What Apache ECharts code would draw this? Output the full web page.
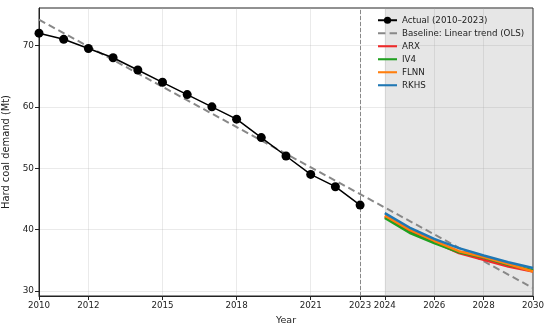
<!DOCTYPE html>
<html><head><meta charset="utf-8">
<script src="https://cdn.jsdelivr.net/npm/echarts@6/dist/echarts.min.js"></script>
<style>html,body{margin:0;padding:0;background:#fff}#c{width:550px;height:332px}</style>
</head><body><div id="c"></div>
<script>
const actualYears = [2010,2011,2012,2013,2014,2015,2016,2017,2018,2019,2020,2021,2022,2023];
const actualValues = [72,71,69.5,68,66,64,62,60,58,55,52,49,47,44];
const baselineYears = [2010,2030];
const baselineValues = [74.2,30.5];
const forecastYears = [2024,2025,2026,2027,2028,2029,2030];
const arx  = [42.1,39.8,38.0,36.2,35.1,34.0,33.2];
const iv4  = [41.9,39.5,37.8,36.3,35.45,34.3,33.4];
const flnn = [42.3,40.0,38.2,36.5,35.55,34.4,33.2];
const rkhs = [42.7,40.35,38.5,37.0,35.8,34.7,33.75];
const xTicks = [2010,2012,2015,2018,2021,2023,2024,2026,2028,2030];
const yTicks = [30,40,50,60,70];
const forecastStart = 2024, forecastEnd = 2030, splitYear = 2023;

const font = 'DejaVu Sans';
const zip = (xs, ys) => xs.map((x,i)=>[x,ys[i]]);
const chart = echarts.init(document.getElementById('c'));
const fc = (name, vals, color, z) => ({
  name, type:'line', data: zip(forecastYears, vals), showSymbol:false, symbol:'none',
  lineStyle:{color, width:2.5}, itemStyle:{color}, z, animation:false
});
const lineIcon = 'path://M0,0h20v2.2h-20z';
const dashIcon = 'path://M0,0h7v2h-7zM11,0h7v2h-7z';
const chartOpt = {
  animation:false,
  textStyle:{fontFamily:font},
  grid:{left:39,right:17,top:8,bottom:36,outerBoundsMode:'none',containLabel:false,show:true,borderColor:'#222',borderWidth:1,backgroundColor:'transparent'},
  xAxis:{type:'value',min:2010,max:2030,
    name:'Year',nameLocation:'middle',nameGap:20,nameTextStyle:{fontFamily:font,fontSize:9.5,color:'#222'},
    axisLine:{show:true,onZero:false,lineStyle:{color:'#222',width:1}},
    axisTick:{show:true,length:4,lineStyle:{color:'#222'},customValues:xTicks},
    axisLabel:{customValues:xTicks,formatter:v=>String(v),fontFamily:font,fontSize:8.7,color:'#222',margin:5},
    splitLine:{show:true,lineStyle:{color:'rgba(170,170,170,0.25)',width:1}}
  },
  yAxis:{type:'value',min:29.2,max:76.1,
    name:'Hard coal demand (Mt)',nameLocation:'middle',nameGap:27,nameTextStyle:{fontFamily:font,fontSize:9.9,color:'#222'},
    axisLine:{show:true,onZero:false,lineStyle:{color:'#222',width:1}},
    axisTick:{show:true,length:4,lineStyle:{color:'#222'},customValues:yTicks},
    axisLabel:{customValues:yTicks,fontFamily:font,fontSize:8.9,color:'#222',margin:5},
    splitLine:{show:true,lineStyle:{color:'rgba(170,170,170,0.25)',width:1}}
  },
  legend:{left:372,top:10,orient:'vertical',itemWidth:19,itemHeight:9,itemGap:2.5,symbolKeepAspect:true,
    textStyle:{fontFamily:font,fontSize:8.7,color:'#222',lineHeight:10.5},
    data:[
      {name:'Actual (2010–2023)'},
      {name:'Baseline: Linear trend (OLS)',icon:dashIcon},
      {name:'ARX',icon:lineIcon},{name:'IV4',icon:lineIcon},{name:'FLNN',icon:lineIcon},{name:'RKHS',icon:lineIcon}
    ]},
  series:[
    {name:'Actual (2010–2023)',type:'line',data:zip(actualYears,actualValues),
     symbol:'circle',symbolSize:9,lineStyle:{color:'#000',width:1.5},itemStyle:{color:'#000'},z:5,
     markArea:{silent:true,itemStyle:{color:'rgba(128,128,128,0.2)'},data:[[{xAxis:forecastStart},{xAxis:forecastEnd}]]},
     markLine:{silent:true,symbol:'none',label:{show:false},lineStyle:{color:'#888',width:1,type:[4,2]},data:[{xAxis:splitYear}]}
    },
    {name:'Baseline: Linear trend (OLS)',type:'line',data:zip(baselineYears,baselineValues),showSymbol:false,symbol:'none',
     lineStyle:{color:'#888',width:2,type:[7,4]},itemStyle:{color:'#888'},z:4},
    fc('ARX',arx,'#ee2a2a',6),
    fc('IV4',iv4,'#20a020',7),
    fc('FLNN',flnn,'#ff7f0e',8),
    fc('RKHS',rkhs,'#1f77b4',9)
  ]
};
chart.setOption(chartOpt);
</script></body></html>
